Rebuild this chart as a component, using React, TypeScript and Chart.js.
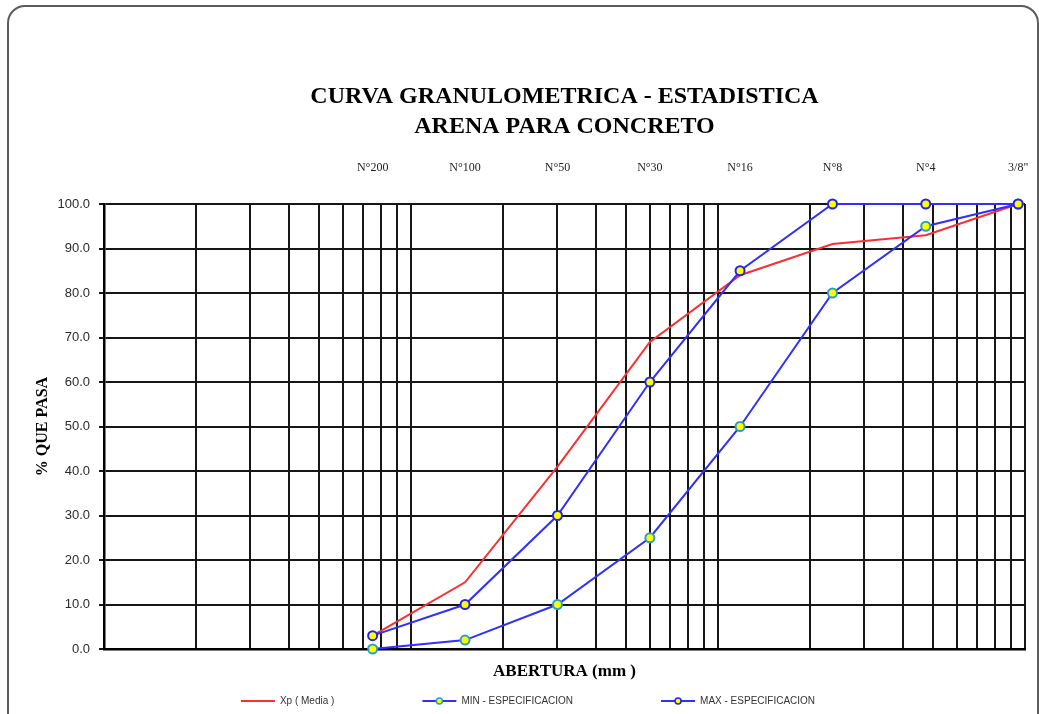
import React, { useEffect, useRef } from "react";
import { Chart, registerables } from "chart.js";

Chart.register(...registerables);

// ---------- data ----------
const sieveLabels = ["N°200", "N°100", "N°50", "N°30", "N°16", "N°8", "N°4", "3/8\""];
const sieveSizesMm = [0.075, 0.15, 0.3, 0.6, 1.18, 2.36, 4.75, 9.5];
const xpMedia = [3, 15, 41, 69, 84, 91, 93, 100];
const minSpec = [0, 2, 10, 25, 50, 80, 95, 100];
const maxSpec = [3, 10, 30, 60, 85, 100, 100, 100];
const yTickValues = [0, 10, 20, 30, 40, 50, 60, 70, 80, 90, 100];
const titleLines = ["CURVA GRANULOMETRICA - ESTADISTICA", "ARENA PARA CONCRETO"];
const seriesNames = ["Xp ( Media )", "MIN - ESPECIFICACION", "MAX - ESPECIFICACION"];
const xAxisTitle = "ABERTURA (mm )";
const yAxisTitle = "% QUE PASA";

// ---------- style ----------
const SERIF = '"Liberation Serif", "Times New Roman", serif';
const SANS = '"Liberation Sans", Arial, sans-serif';
const GRID = "#161616";
const RED = "#ff2e2e";
const BLUE = "#2f2fff";
const YELLOW = "#ffff00";

const toPoints = (ys: number[]) => sieveSizesMm.map((x, i) => ({ x, y: ys[i] }));

// log grid: 1..9 per decade from 0.01 to 10
const decades = [0.01, 0.1, 1];
const gridValues: number[] = [];
decades.forEach((d) => {
  for (let m = 1; m <= 9; m++) gridValues.push(parseFloat((d * m).toPrecision(6)));
});
gridValues.push(10);

const legendPlugin = {
  id: "sheetLegend",
  afterDraw(chart: any) {
    const { ctx } = chart;
    const y = 701;
    const lineLen = 34;
    const textGap = 5;
    const itemGap = 88;
    const centerX = 528;
    ctx.save();
    ctx.font = `10px ${SANS}`;
    ctx.textBaseline = "middle";
    const dsList = chart.data.datasets;
    const widths = dsList.map((ds: any) => lineLen + textGap + ctx.measureText(ds.label).width);
    const total = widths.reduce((a: number, b: number) => a + b, 0) + itemGap * (dsList.length - 1);
    let x = centerX - total / 2;
    dsList.forEach((ds: any, i: number) => {
      ctx.strokeStyle = ds.borderColor;
      ctx.lineWidth = 2;
      ctx.beginPath();
      ctx.moveTo(x, y);
      ctx.lineTo(x + lineLen, y);
      ctx.stroke();
      if (ds.pointRadius > 0) {
        ctx.beginPath();
        ctx.arc(x + lineLen / 2, y, 3, 0, Math.PI * 2);
        ctx.fillStyle = ds.pointBackgroundColor;
        ctx.fill();
        ctx.lineWidth = 1.5;
        ctx.strokeStyle = ds.pointBorderColor;
        ctx.stroke();
      }
      ctx.fillStyle = "#333";
      ctx.textAlign = "left";
      ctx.fillText(ds.label, x + lineLen + textGap, y);
      x += widths[i] + itemGap;
    });
    ctx.restore();
  },
};

export default function App() {
  const ref = useRef<HTMLCanvasElement>(null);

  useEffect(() => {
    const canvas = ref.current;
    if (!canvas) return;
    const chart = new Chart(canvas, {
      type: "line",
      data: {
        datasets: [
          {
            label: seriesNames[0],
            data: toPoints(xpMedia),
            borderColor: RED,
            backgroundColor: RED,
            borderWidth: 2,
            pointRadius: 0,
            tension: 0,
            clip: false,
            order: 3,
          },
          {
            label: seriesNames[1],
            data: toPoints(minSpec),
            borderColor: BLUE,
            backgroundColor: BLUE,
            borderWidth: 2,
            pointRadius: 4.5,
            pointBorderWidth: 2,
            pointBackgroundColor: YELLOW,
            pointBorderColor: "#2a9fc4",
            tension: 0,
            clip: false,
            order: 2,
          },
          {
            label: seriesNames[2],
            data: toPoints(maxSpec),
            borderColor: BLUE,
            backgroundColor: BLUE,
            borderWidth: 2,
            pointRadius: 4.5,
            pointBorderWidth: 2,
            pointBackgroundColor: YELLOW,
            pointBorderColor: "#2424e6",
            tension: 0,
            clip: false,
            order: 1,
          },
        ],
      },
      options: {
        responsive: false,
        animation: false,
        layout: { padding: { left: 0, right: 14, top: 0, bottom: 0 } },
        plugins: {
          legend: { display: false },
          tooltip: { enabled: false },
          title: {
            display: true,
            fullSize: false,
            text: titleLines,
            color: "#000",
            font: { family: SERIF, size: 24, weight: "bold", lineHeight: 1.25 },
            padding: { top: 82, bottom: 0 },
          },
        },
        scales: {
          x: {
            type: "logarithmic",
            position: "bottom",
            min: 0.01,
            max: 10,
            afterBuildTicks: (scale: any) => {
              scale.ticks = gridValues.map((v) => ({ value: v }));
            },
            afterFit: (scale: any) => {
              scale.height = 65;
              scale.paddingLeft = 0;
              scale.paddingRight = 0;
            },
            ticks: { display: false },
            grid: { color: GRID, lineWidth: 2, drawTicks: false },
            border: { color: "#000", width: 2.5 },
            title: {
              display: true,
              text: xAxisTitle,
              color: "#000",
              font: { family: SERIF, size: 17, weight: "bold", lineHeight: 1.2 },
              padding: { top: 0, bottom: 32 },
            },
          },
          xTop: {
            type: "logarithmic",
            axis: "x",
            position: "top",
            min: 0.01,
            max: 10,
            afterBuildTicks: (scale: any) => {
              scale.ticks = sieveSizesMm.map((v) => ({ value: v }));
            },
            afterFit: (scale: any) => {
              scale.height = 62;
              scale.paddingLeft = 0;
              scale.paddingRight = 0;
            },
            ticks: {
              autoSkip: false,
              maxRotation: 0,
              padding: 29,
              color: "#222",
              font: { family: SERIF, size: 12, lineHeight: 1.2 },
              callback: (value: any) => {
                const idx = sieveSizesMm.findIndex((s) => Math.abs(s - Number(value)) < 1e-9);
                return idx >= 0 ? sieveLabels[idx] : "";
              },
            },
            grid: { display: false, drawTicks: false },
            border: { display: false },
          },
          y: {
            type: "linear",
            min: 0,
            max: 100,
            afterBuildTicks: (scale: any) => {
              scale.ticks = yTickValues.map((v) => ({ value: v }));
            },
            afterFit: (scale: any) => {
              scale.width = 104;
              scale.paddingTop = 0;
              scale.paddingBottom = 0;
            },
            ticks: {
              padding: 9,
              color: "#2a2a2a",
              font: { family: SANS, size: 13 },
              callback: (value: any) => Number(value).toFixed(1),
            },
            grid: { color: GRID, lineWidth: 2, drawTicks: true, tickLength: 5 },
            border: { color: "#000", width: 2.5 },
            title: {
              display: true,
              text: yAxisTitle,
              color: "#000",
              font: { family: SERIF, size: 16, weight: "bold", lineHeight: 1.2 },
              padding: { top: 33, bottom: 0 },
            },
          },
        },
      },
      plugins: [legendPlugin],
    } as any);
    return () => chart.destroy();
  }, []);

  return (
    <div
      style={{
        position: "fixed",
        left: 0,
        top: 0,
        width: 1039,
        height: 714,
        overflow: "hidden",
        background: "#fff",
      }}
    >
      <div
        style={{
          position: "absolute",
          left: 7,
          top: 5,
          width: 1032,
          height: 740,
          boxSizing: "border-box",
          border: "2px solid #5c5c5c",
          borderRadius: 18,
        }}
      />
      <canvas
        ref={ref}
        width={1039}
        height={714}
        style={{ position: "absolute", left: 0, top: 0, width: 1039, height: 714 }}
      />
    </div>
  );
}
